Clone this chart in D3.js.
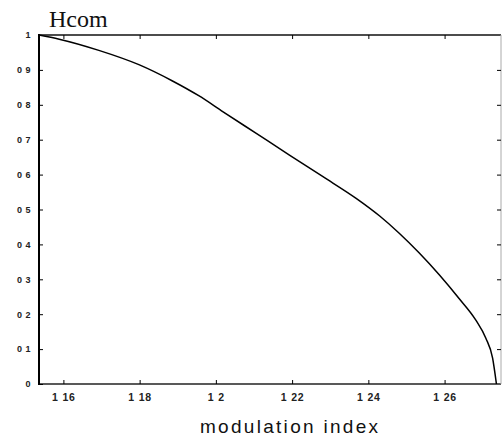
<!DOCTYPE html>
<html>
  <head>
    <meta charset="UTF-8" />
    <title>Hcom vs modulation index</title>
    <style>
      body { margin: 0; background: #fff; }
    </style>
  </head>
  <body>
    <script src="https://cdn.jsdelivr.net/npm/d3@7"></script>
    <script>
      // values
      var modIndex = [1.1536, 1.1589, 1.1693, 1.1798, 1.1885, 1.1955, 1.2019, 1.2106,
                      1.2193, 1.2281, 1.2368, 1.2429, 1.2481, 1.2533, 1.2586, 1.2638,
                      1.2682, 1.2708, 1.2726, 1.2736];
      var hcom = [1.000, 0.988, 0.956, 0.915, 0.869, 0.826, 0.780, 0.718,
                  0.656, 0.594, 0.532, 0.482, 0.432, 0.376, 0.313, 0.245,
                  0.183, 0.132, 0.074, 0.000];
      var xTicks = [1.16, 1.18, 1.2, 1.22, 1.24, 1.26];
      var xTickLabels = ["1 16", "1 18", "1 2", "1 22", "1 24", "1 26"];
      var yTicks = [0, 0.1, 0.2, 0.3, 0.4, 0.5, 0.6, 0.7, 0.8, 0.9, 1];
      var yTickLabels = ["0", "0 1", "0 2", "0 3", "0 4", "0 5", "0 6", "0 7", "0 8", "0 9", "1"];

      var width = 502, height = 437;
      // plot box (note: "top" is taken by window.top, so prefix these)
      var plotL = 39, plotR = 501, plotT = 35, plotB = 384;

      var svg = d3.select("body")
                  .append("svg")
                  .attr("width", width)
                  .attr("height", height);

      var x = d3.scaleLinear().domain([1.1536, 1.2748]).range([plotL, plotR]);
      var y = d3.scaleLinear().domain([0, 1]).range([plotB, plotT]);

      // frame: top, bottom and left black, right side faded in the scan
      svg.append("line").attr("x1", plotL).attr("x2", plotR).attr("y1", plotT).attr("y2", plotT)
         .attr("stroke", "#111").attr("stroke-width", 1.5);
      svg.append("line").attr("x1", plotL).attr("x2", plotR).attr("y1", plotB).attr("y2", plotB)
         .attr("stroke", "#222").attr("stroke-width", 1.5);
      svg.append("line").attr("x1", plotL).attr("x2", plotL).attr("y1", plotT - 1).attr("y2", plotB + 1)
         .attr("stroke", "#000").attr("stroke-width", 2);
      svg.append("line").attr("x1", plotR).attr("x2", plotR).attr("y1", plotT).attr("y2", plotB)
         .attr("stroke", "#aaa").attr("stroke-width", 1);

      // bottom axis (ticks point inward)
      var xAxis = d3.axisBottom(x)
                    .tickValues(xTicks)
                    .tickSize(-4)
                    .tickPadding(10)
                    .tickFormat(function(d, i) { return xTickLabels[i]; });
      var gx = svg.append("g").attr("transform", "translate(0," + plotB + ")").call(xAxis);
      gx.select(".domain").remove();
      gx.selectAll(".tick line").attr("stroke", "#000");
      gx.selectAll(".tick text")
        .attr("font-family", "Liberation Sans, Arial, sans-serif")
        .attr("font-size", "10.5px")
        .attr("font-weight", "bold")
        .attr("letter-spacing", "0.8px")
        .attr("fill", "#222");

      // top ticks
      var gxt = svg.append("g").attr("transform", "translate(0," + plotT + ")")
                   .call(d3.axisTop(x).tickValues(xTicks).tickSize(-4).tickFormat(""));
      gxt.select(".domain").remove();

      // left axis
      var yAxis = d3.axisLeft(y)
                    .tickValues(yTicks)
                    .tickSize(-4)
                    .tickPadding(8)
                    .tickFormat(function(d, i) { return yTickLabels[i]; });
      var gy = svg.append("g").attr("transform", "translate(" + plotL + ",0)").call(yAxis);
      gy.select(".domain").remove();
      gy.selectAll(".tick text")
        .attr("font-family", "Liberation Sans, Arial, sans-serif")
        .attr("font-size", "9px")
        .attr("font-weight", "bold")
        .attr("letter-spacing", "0.5px")
        .attr("fill", "#222");

      // right ticks
      var gyr = svg.append("g").attr("transform", "translate(" + plotR + ",0)")
                   .call(d3.axisRight(y).tickValues(yTicks.slice(1, 10)).tickSize(-4).tickFormat(""));
      gyr.select(".domain").remove();

      // curve
      var pts = modIndex.map(function(m, i) { return [m, hcom[i]]; });
      svg.append("path")
         .datum(pts)
         .attr("d", d3.line()
                   .x(function(d) { return x(d[0]); })
                   .y(function(d) { return y(d[1]); })
                   .curve(d3.curveMonotoneX))
         .attr("fill", "none")
         .attr("stroke", "#000")
         .attr("stroke-width", 1.5);

      // title and axis label
      svg.append("text")
         .attr("x", 49)
         .attr("y", 27)
         .attr("font-family", "Liberation Serif, Times New Roman, serif")
         .attr("font-size", "24px")
         .attr("fill", "#111")
         .text("Hcom");

      svg.append("text")
         .attr("x", 200)
         .attr("y", 433)
         .attr("font-family", "Liberation Sans, Arial, sans-serif")
         .attr("font-size", "19px")
         .attr("textLength", 178)
         .attr("lengthAdjust", "spacing")
         .attr("fill", "#111")
         .text("modulation index");
    </script>
  </body>
</html>
